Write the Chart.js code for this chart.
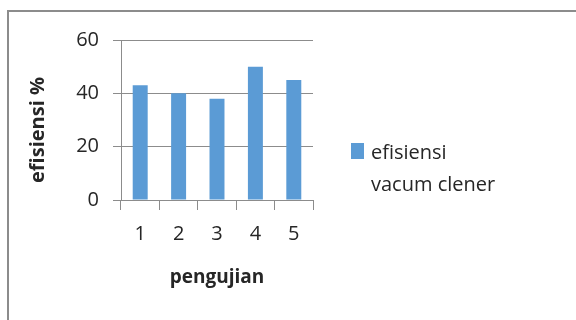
<!DOCTYPE html>
<html>
<head>
<meta charset="utf-8">
<script src="https://cdn.jsdelivr.net/npm/chart.js@4"></script>
<style>
  html, body { margin: 0; padding: 0; background: #fff; }
  #wrap { position: relative; width: 576px; height: 320px; overflow: hidden; }
  #frame { position: absolute; left: 7px; top: 10px; width: 600px; height: 400px;
           border-left: 2px solid #8c8c8c; border-top: 2px solid #8c8c8c; box-sizing: border-box; }
  canvas { position: absolute; left: 0; top: 0; }
</style>
</head>
<body>
<div id="wrap">
  <div id="frame"></div>
  <canvas id="c" width="576" height="320"></canvas>
</div>
<script>
const categories = ['1', '2', '3', '4', '5'];
const efisiensi = [43, 40, 38, 50, 45];
const yTicks = [0, 20, 40, 60];
const seriesName = ['efisiensi', 'vacum clener'];
const xTitle = 'pengujian';
const yTitle = 'efisiensi %';

const textColor = '#262626';
const barColor = '#5B9BD5';
const gridColor = '#8c8c8c';
const fam = '"Open Sans"';

const overlay = {
  id: 'overlay',
  afterDraw(chart) {
    const { ctx, chartArea: a } = chart;
    ctx.save();
    ctx.fillStyle = textColor;
    ctx.textBaseline = 'middle';
    // x title
    ctx.font = 'bold 19px ' + fam;
    ctx.textAlign = 'center';
    ctx.fillText(xTitle, (a.left + a.right) / 2, a.bottom + 78);
    // y title
    ctx.font = 'bold 20px ' + fam;
    ctx.save();
    ctx.translate(a.left - 83, a.top + 90);
    ctx.rotate(-Math.PI / 2);
    ctx.fillText(yTitle, 0, 0);
    ctx.restore();
    // legend
    const lx = a.right + 38, ly = a.top + 103;
    ctx.fillStyle = barColor;
    ctx.fillRect(lx, ly, 13, 16);
    ctx.fillStyle = textColor;
    ctx.font = '20px ' + fam;
    ctx.textAlign = 'left';
    seriesName.forEach((t, i) => ctx.fillText(t, lx + 20, ly + 10 + i * 32));
    ctx.restore();
  }
};

new Chart(document.getElementById('c'), {
  type: 'bar',
  data: {
    labels: categories,
    datasets: [{
      label: seriesName.join(' '),
      data: efisiensi,
      backgroundColor: barColor,
      borderWidth: 0,
      categoryPercentage: 1,
      barPercentage: 0.39
    }]
  },
  options: {
    responsive: false,
    animation: false,
    devicePixelRatio: 1,
    layout: { padding: { top: 40, right: 263, left: 0, bottom: 0 } },
    plugins: { legend: { display: false }, tooltip: { enabled: false } },
    scales: {
      x: {
        offset: true,
        grid: { offset: true, drawOnChartArea: false, drawTicks: true, tickLength: 10, color: gridColor, lineWidth: 1 },
        border: { display: true, color: gridColor, width: 1 },
        ticks: { color: textColor, font: { family: fam, size: 20 }, padding: 12 },
        afterFit(s) { s.height = 120; }
      },
      y: {
        min: 0, max: 60,
        afterBuildTicks(s) { s.ticks = yTicks.map(v => ({ value: v })); },
        grid: { color: gridColor, lineWidth: 1, tickLength: 8, drawTicks: true },
        border: { display: true, color: gridColor, width: 1 },
        ticks: { color: textColor, font: { family: fam, size: 20 }, padding: 14 },
        afterFit(s) { s.width = 121; }
      }
    }
  },
  plugins: [overlay]
});
</script>
</body>
</html>
